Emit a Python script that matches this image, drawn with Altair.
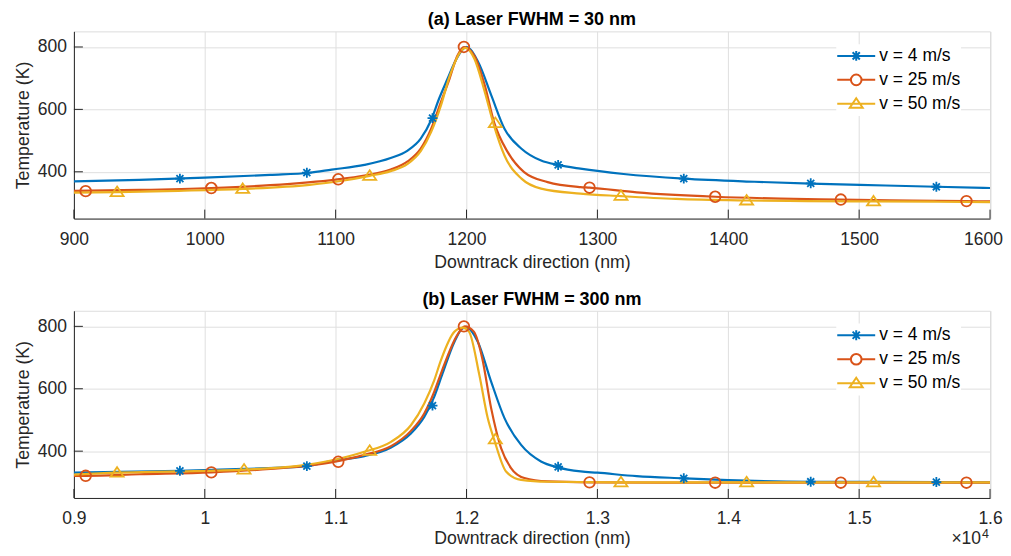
import altair as alt
import pandas as pd

SERIES = ["v = 4 m/s", "v = 25 m/s", "v = 50 m/s"]
COLORS = ["#0072BD", "#D95319", "#EDB120"]

# ---------------- Panel (a): Laser FWHM = 30 nm (x in nm) ----------------
a_v4_x = [900, 950, 1000, 1050, 1080, 1097, 1122, 1142, 1155, 1165, 1173, 1179, 1185.5, 1191, 1200,
          1209, 1219, 1229, 1242, 1257, 1270, 1287, 1320, 1366, 1420, 1463, 1520, 1559, 1600]
a_v4_t = [369, 374, 381, 390, 397, 407, 422, 444, 468, 506, 566, 634, 698, 751, 800,
          751, 644, 538, 474, 436, 422, 410, 393, 378, 368, 362, 356, 352, 348]
a_v25_x = [900, 950, 1005, 1050, 1100, 1122, 1142, 1155, 1165, 1173, 1180.4, 1187, 1193, 1198,
           1206, 1214, 1221, 1231.5, 1244, 1262, 1287, 1294, 1330, 1390, 1440, 1486, 1540, 1582, 1600]
a_v25_t = [339, 342, 348, 357, 375, 388, 407, 433, 474, 538, 623, 698, 772, 800,
           772, 676, 559, 463, 399, 367, 351, 349, 334, 320, 314, 311, 308, 306, 305]
a_v50_x = [900, 933, 980, 1029, 1080, 1100, 1126, 1142, 1155, 1165, 1173, 1180.4, 1187, 1196, 1199,
           1206, 1214, 1221, 1229, 1242, 1257, 1287, 1318, 1360, 1414, 1460, 1511, 1560, 1600]
a_v50_t = [333, 335, 339, 345, 358, 368, 387, 402, 425, 466, 528, 612, 705, 788, 797,
           762, 655, 548, 452, 378, 346, 330, 322, 313, 308, 306, 305, 304, 303]

a_m4_x = [981, 1078, 1174, 1270, 1366, 1463, 1559]
a_m4_t = [378, 397, 572, 422, 378, 363, 352]
a_m25_x = [909, 1005, 1102, 1198, 1294, 1390, 1486, 1582]
a_m25_t = [338, 348, 376, 800, 349, 320, 311, 306]
a_m50_x = [933, 1029, 1126, 1222, 1318, 1414, 1511]
a_m50_t = [335, 345, 387, 556, 323, 308, 305]

# ---------------- Panel (b): Laser FWHM = 300 nm (x in nm) ----------------
b_v4_x = [9000, 9810, 10300, 10780, 10965, 11219, 11423, 11575, 11677, 11753, 11817, 11908, 11972, 12000,
          12086, 12188, 12290, 12417, 12569, 12697, 12873, 13000, 13300, 13660, 14000, 14630, 15590, 16000]
b_v4_t = [331, 337, 343, 352, 368, 384, 412, 457, 510, 574, 649, 751, 794, 796,
          751, 623, 506, 420, 367, 348, 335, 331, 320, 313, 307, 302, 301, 300]
b_v25_x = [9000, 9090, 9500, 10050, 10500, 10965, 11219, 11423, 11575, 11677, 11753, 11810, 11929, 11987,
           12056, 12120, 12188, 12264, 12340, 12442, 12620, 12940, 13500, 16000]
b_v25_t = [321, 321, 326, 332, 343, 364, 388, 416, 465, 521, 590, 655, 772, 800,
           783, 698, 538, 410, 346, 314, 303, 300, 299, 299]
b_v50_x = [9000, 9330, 9800, 10300, 10700, 10965, 11219, 11423, 11575, 11677, 11753, 11804, 11908, 11972,
           12019, 12098, 12162, 12212, 12302, 12417, 12620, 13180, 16000]
b_v50_t = [325, 331, 335, 341, 352, 370, 398, 430, 483, 553, 627, 691, 783, 796,
           783, 644, 506, 436, 335, 308, 302, 300, 300]

b_m4_x = [9810, 10780, 11740, 12700, 13660, 14630, 15590]
b_m4_t = [337, 352, 546, 350, 313, 302, 301]
b_m25_x = [9090, 10050, 11020, 11980, 12940, 13900, 14860, 15820]
b_m25_t = [321, 332, 366, 800, 300, 299, 299, 299]
b_m50_x = [9330, 10300, 11260, 12220, 13180, 14140, 15110]
b_m50_t = [331, 341, 401, 438, 300, 300, 300]

A_XTICKS = [900, 1000, 1100, 1200, 1300, 1400, 1500, 1600]
B_XTICKS = [9000, 10000, 11000, 12000, 13000, 14000, 15000, 16000]
YTICKS = [400, 600, 800]

# ---------------- styling ----------------
W, H = 917.5, 187.5
FONT = "Liberation Sans"
AXC = "#262626"
GRID = "#dfdfdf"

MARK_PATHS = [
    "M0,-0.71V0.71M-0.71,0H0.71M-0.5,-0.5L0.5,0.5M-0.5,0.5L0.5,-0.5",
    "M0.76,0A0.76,0.76,0,1,1,-0.76,0A0.76,0.76,0,1,1,0.76,0Z",
    "M0,-0.79L0.93,0.57L-0.93,0.57Z",
]
LEG_PATHS = [
    "M-1,0H1M0,-0.26V0.26M-0.19,-0.19L0.19,0.19M-0.19,0.19L0.19,-0.19",
    "M-1,0H-0.28M0.28,0H1M0.28,0A0.28,0.28,0,1,1,-0.28,0A0.28,0.28,0,1,1,0.28,0",
    "M-1,0H1M0,-0.29L0.34,0.21L-0.34,0.21Z",
]


def frame(xs, ts, names):
    rows = []
    for x_list, t_list, name in zip(xs, ts, names):
        for x, t in zip(x_list, t_list):
            rows.append({"x": x, "T": t, "series": name})
    return pd.DataFrame(rows)


def panel(title, curves, markers, xdomain, xticks, label_expr, last_shift, title_pad, extra=None):
    lines_df = frame(curves[0], curves[1], SERIES)
    marks_df = frame(markers[0], markers[1], SERIES)

    xaxis = alt.Axis(
        values=xticks, title="Downtrack direction (nm)", labelFlush=False, ticks=False,
        labelExpr=label_expr,
        labelOffset={"condition": {"test": f"datum.value == {xticks[-1]}", "value": last_shift}, "value": 0},
        labelPadding=12, titlePadding=title_pad, grid=True, gridColor=GRID, gridWidth=1,
        domainColor=AXC, domainWidth=1, labelColor=AXC, titleColor=AXC,
        labelFontSize=17.5, titleFontSize=17.7, titleFontWeight="normal",
        labelFont=FONT, titleFont=FONT,
    )
    yaxis = alt.Axis(
        values=YTICKS, title="Temperature (K)", ticks=False, labelPadding=7.5, titlePadding=5,
        grid=True, gridColor=GRID, gridWidth=1, domainColor=AXC, domainWidth=1,
        labelColor=AXC, titleColor=AXC, labelFontSize=17.5, titleFontSize=17.7,
        titleFontWeight="normal", labelFont=FONT, titleFont=FONT,
    )
    xs = alt.Scale(domain=xdomain, nice=False, zero=False)
    ys = alt.Scale(domain=[250, 850], nice=False, zero=False)
    cs = alt.Scale(domain=SERIES, range=COLORS)

    X = lambda f: alt.X(f, scale=xs, axis=xaxis, title="Downtrack direction (nm)")
    Y = lambda f: alt.Y(f, scale=ys, axis=yaxis, title="Temperature (K)")

    lines = alt.Chart(lines_df).mark_line(strokeWidth=2.2, interpolate="monotone", clip=True).encode(
        x=X("x:Q"), y=Y("T:Q"),
        color=alt.Color("series:N", scale=cs, legend=None),
    )
    pts = alt.Chart(marks_df).mark_point(filled=False, strokeWidth=1.8, size=196, opacity=1, clip=True).encode(
        x=X("x:Q"), y=Y("T:Q"),
        color=alt.Color("series:N", scale=cs, legend=None),
        shape=alt.Shape("series:N", scale=alt.Scale(domain=SERIES, range=MARK_PATHS), legend=None),
    )
    leg_kw = dict(
        title=None, orient="none", legendX=763.5, legendY=12.8, padding=0,
        symbolSize=1444, symbolStrokeWidth=2, clipHeight=23.5, rowPadding=0,
        labelOffset=3, labelFontSize=17.5, labelFont=FONT, labelColor="black",
        fillColor="white",
    )
    leg = alt.Chart(marks_df).transform_filter("false").mark_point(filled=False, strokeWidth=2, opacity=1).encode(
        x=X("x:Q"), y=Y("T:Q"),
        color=alt.Color("series:N", scale=cs, legend=alt.Legend(**leg_kw)),
        shape=alt.Shape("series:N", scale=alt.Scale(domain=SERIES, range=LEG_PATHS),
                        legend=alt.Legend(**leg_kw)),
    )
    xt = alt.Chart(pd.DataFrame({"x": xticks})).mark_rule(color=AXC, strokeWidth=1).encode(
        x=X("x:Q"), y=alt.value(H), y2=alt.value(H - 9)
    )
    yt = alt.Chart(pd.DataFrame({"T": YTICKS})).mark_rule(color=AXC, strokeWidth=1).encode(
        y=Y("T:Q"), x=alt.value(0), x2=alt.value(9)
    )
    layers = [lines, pts, xt, yt, leg]
    if extra is not None:
        layers += [e.encode(x=X("x:Q")) for e in extra]
    return alt.layer(*layers).resolve_scale(color="independent", shape="independent").properties(
        width=W, height=H,
        title=alt.TitleParams(title, fontSize=18, fontWeight="bold", font=FONT, color="black",
                              offset=2, anchor="middle"),
    )


top = panel("(a) Laser FWHM = 30 nm", ([a_v4_x, a_v25_x, a_v50_x], [a_v4_t, a_v25_t, a_v50_t]),
            ([a_m4_x, a_m25_x, a_m50_x], [a_m4_t, a_m25_t, a_m50_t]), [900, 1600], A_XTICKS,
            "format(datum.value, 'd')", -7, 5)

exp_df = pd.DataFrame({"x": [16000], "base": ["\u00d710"], "pow": ["4"]})
exp_base = alt.Chart(exp_df).mark_text(align="right", baseline="alphabetic", fontSize=17.5, font=FONT,
                                       color=AXC, dx=-9).encode(y=alt.value(H + 46), text="base:N")
exp_pow = alt.Chart(exp_df).mark_text(align="left", baseline="alphabetic", fontSize=12.5, font=FONT,
                                      color=AXC, dx=-8).encode(y=alt.value(H + 40), text="pow:N")

bottom = panel("(b) Laser FWHM = 300 nm", ([b_v4_x, b_v25_x, b_v50_x], [b_v4_t, b_v25_t, b_v50_t]),
               ([b_m4_x, b_m25_x, b_m50_x], [b_m4_t, b_m25_t, b_m50_t]), [9000, 16000], B_XTICKS,
               "datum.value / 10000", 0, 2, extra=[exp_base, exp_pow])

chart = alt.vconcat(top, bottom, spacing=17.8).properties(
    padding={"left": 5, "top": 2, "right": 0, "bottom": 0}
).configure_view(stroke=None).configure(background="white")

chart.save("out.html", embed_options={"renderer": "svg", "actions": False})
